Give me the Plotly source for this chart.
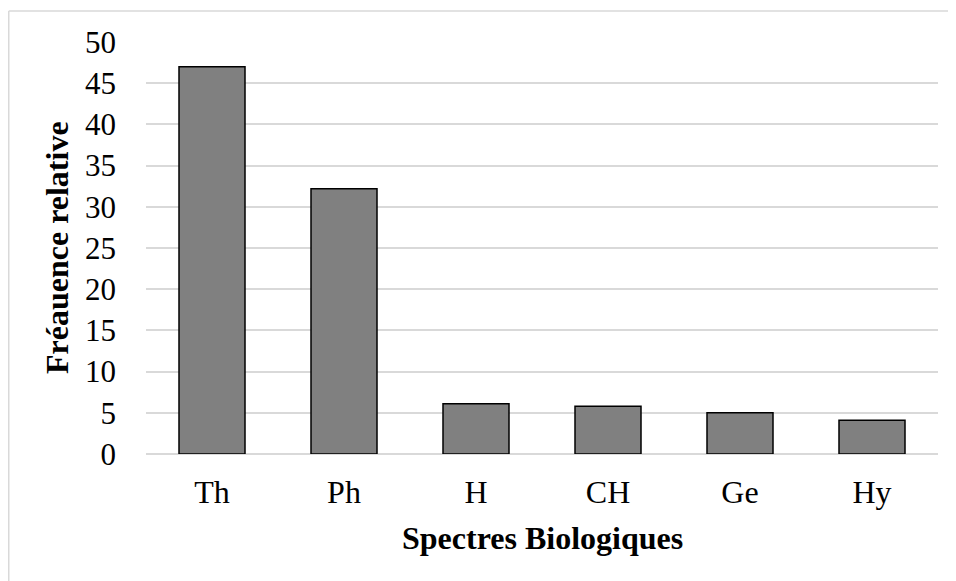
import plotly.graph_objects as go

categories = ["Th", "Ph", "H", "CH", "Ge", "Hy"]
values = [47.0, 32.2, 6.1, 5.8, 5.0, 4.1]
y_ticks = [0, 5, 10, 15, 20, 25, 30, 35, 40, 45, 50]

# the page body adds an 8px margin, so the figure is 8px smaller
OFF = 8
W, H = 956 - OFF, 581 - OFF
L, R, T, B = 146 - OFF, 18, 42 - OFF, 127
pw, ph = W - L - R, H - T - B

FONT = "Liberation Serif, Times New Roman, serif"

fig = go.Figure(go.Bar(
    x=categories, y=values,
    marker=dict(color="#808080", line=dict(color="#000000", width=1.5)),
    width=0.5,
))

fig.update_layout(
    width=W, height=H,
    margin=dict(l=L, r=R, t=T, b=B),
    paper_bgcolor="white", plot_bgcolor="white",
    font=dict(family=FONT, size=32, color="black"),
    showlegend=False,
    xaxis=dict(
        showgrid=False, showline=False, zeroline=False,
        ticks="", ticklabelstandoff=16,
        tickfont=dict(family=FONT, size=32, color="black"),
    ),
    yaxis=dict(
        range=[0, 50], tickvals=y_ticks,
        showgrid=True, gridcolor="#d9d9d9", gridwidth=1.5,
        zeroline=True, zerolinecolor="#d9d9d9", zerolinewidth=1.5,
        showline=False, ticks="", ticklabelstandoff=29,
        tickfont=dict(family=FONT, size=31, color="black"),
    ),
    annotations=[
        dict(text="<b>Spectres Biologiques</b>", xref="paper", yref="paper",
             x=0.5, y=0, xanchor="center", yanchor="middle", yshift=-84,
             showarrow=False, font=dict(family=FONT, size=32, color="black")),
        dict(text="<b>Fréauence relative</b>", xref="paper", yref="paper",
             x=0, y=0.5, xanchor="center", yanchor="middle", xshift=-89,
             textangle=-90, showarrow=False,
             font=dict(family=FONT, size=32, color="black")),
    ],
)

bx = 0.75 / pw - L / pw
by_top = (T + ph - 3) / ph
by_bot = -(B + 5) / ph
bx_right = (W + 5 - L) / pw
fig.add_shape(type="line", xref="paper", yref="paper",
              x0=bx, x1=bx, y0=by_bot, y1=by_top,
              line=dict(color="#d9d9d9", width=1.5))
fig.add_shape(type="line", xref="paper", yref="paper",
              x0=bx, x1=bx_right, y0=by_top, y1=by_top,
              line=dict(color="#d9d9d9", width=1.5))

fig.write_html("out.html")
